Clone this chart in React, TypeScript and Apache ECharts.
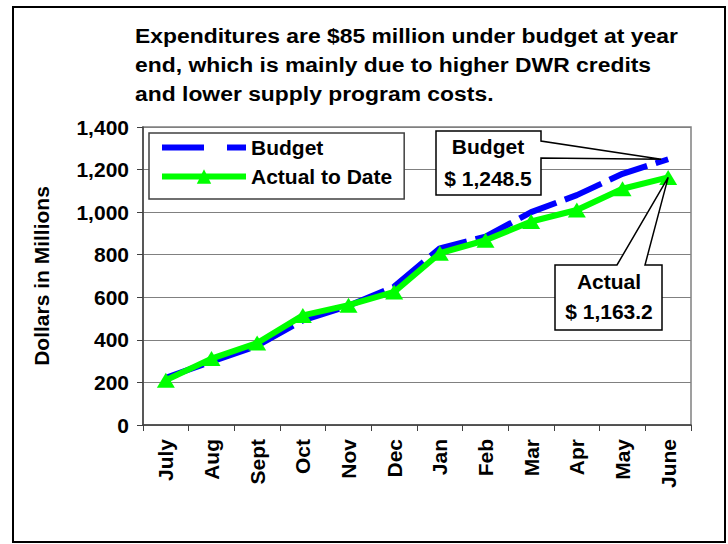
import React, { useEffect, useRef } from "react";
import * as echarts from "echarts";

const months = ["July", "Aug", "Sept", "Oct", "Nov", "Dec", "Jan", "Feb", "Mar", "Apr", "May", "June"];
const budget = [222, 298, 372, 492, 560, 650, 830, 885, 1000, 1080, 1180, 1248.5];
const actual = [210, 312, 385, 515, 563, 625, 807, 868, 956, 1010, 1110, 1163.2];
const titleLines = [
  "Expenditures are $85 million under budget at year",
  "end, which is mainly due to higher DWR credits",
  "and lower supply program costs.",
];
const budgetCallout = ["Budget", "$ 1,248.5"];
const actualCallout = ["Actual", "$ 1,163.2"];
const yAxisName = "Dollars in Millions";

const FONT = "'Liberation Sans', Arial, sans-serif";

export default function App() {
  const ref = useRef<HTMLDivElement>(null);
  useEffect(() => {
    document.body.style.margin = "0";
    const chart = echarts.init(ref.current!, null, { renderer: "svg" });
    chart.setOption({
      animation: false,
      backgroundColor: "#ffffff",
      textStyle: { fontFamily: FONT },
      grid: {
        left: 143,
        right: 37,
        top: 127,
        bottom: 119,
        show: true,
        borderColor: "#808080",
        borderWidth: 1.5,
        backgroundColor: "transparent",
      },
      legend: {
        left: 149,
        top: 133,
        orient: "vertical",
        padding: [4, 12, 12, 10],
        itemGap: 8,
        itemWidth: 84,
        itemHeight: 18,
        borderColor: "#404040",
        borderWidth: 1.5,
        backgroundColor: "#ffffff",
        textStyle: { fontSize: 21, fontWeight: "bold", color: "#000", fontFamily: FONT },
        data: [
          { name: "Budget", itemStyle: { opacity: 0 }, lineStyle: { width: 6, type: [42, 23], opacity: 1 } },
          { name: "Actual to Date", lineStyle: { width: 6 } },
        ],
      },
      xAxis: {
        type: "category",
        data: months,
        boundaryGap: true,
        axisLine: { lineStyle: { color: "#404040", width: 1.5 } },
        axisTick: { show: true, length: 6, lineStyle: { color: "#404040" } },
        axisLabel: {
          rotate: 90,
          margin: 14,
          fontSize: 21,
          fontWeight: "bold",
          color: "#000",
          fontFamily: FONT,
          interval: 0,
        },
        splitLine: { show: false },
      },
      yAxis: {
        type: "value",
        min: 0,
        max: 1400,
        interval: 200,
        name: yAxisName,
        nameLocation: "middle",
        nameGap: 91,
        nameTextStyle: { fontSize: 21, fontWeight: "bold", color: "#000", fontFamily: FONT },
        axisLine: { show: true, lineStyle: { color: "#404040", width: 1.5 } },
        axisTick: { show: true, length: 6, lineStyle: { color: "#404040" } },
        axisLabel: {
          margin: 14,
          fontSize: 21,
          fontWeight: "bold",
          color: "#000",
          fontFamily: FONT,
          formatter: (v: number) => v.toLocaleString("en-US"),
        },
        splitLine: { show: true, lineStyle: { color: "#808080", width: 1 } },
      },
      series: [
        {
          name: "Budget",
          type: "line",
          data: budget,
          symbol: "none",
          itemStyle: { color: "#0000ff" },
          lineStyle: { color: "#0000ff", width: 6, type: [40, 9] },
          z: 2,
        },
        {
          name: "Actual to Date",
          type: "line",
          data: actual,
          symbol: "triangle",
          symbolSize: [18, 15],
          itemStyle: { color: "#00ff00" },
          lineStyle: { color: "#00ff00", width: 6 },
          z: 3,
        },
      ],
    });

    const bp = chart.convertToPixel({ seriesIndex: 0 }, [11, budget[11]]) as number[];
    const ap = chart.convertToPixel({ seriesIndex: 1 }, [11, actual[11]]) as number[];
    const bTip = [bp[0] - 7, bp[1]];
    const aTip = [ap[0], ap[1]];

    const calloutText = (x: number, y: number, text: string) => ({
      type: "text",
      x,
      y,
      style: {
        text,
        font: `bold 21px ${FONT}`,
        fill: "#000",
        align: "center",
        verticalAlign: "middle",
      },
      z: 21,
    });

    chart.setOption({
      graphic: [
        {
          type: "rect",
          shape: { x: 13, y: 7, width: 712, height: 535 },
          style: { fill: "none", stroke: "#000", lineWidth: 2 },
          silent: true,
          z: 0,
        },
        {
          type: "text",
          x: 135,
          y: 21,
          scaleX: 1.09,
          style: {
            text: titleLines.join("\n"),
            font: `bold 21px ${FONT}`,
            fill: "#000",
            lineHeight: 29,
          },
          z: 10,
        },
        {
          type: "polygon",
          shape: {
            points: [
              [436, 131],
              [541, 131],
              [541, 141],
              bTip,
              [541, 158],
              [541, 195],
              [436, 195],
            ],
          },
          style: { fill: "#fff", stroke: "#000", lineWidth: 1.5 },
          z: 20,
        },
        calloutText(488, 146, budgetCallout[0]),
        calloutText(488, 178, budgetCallout[1]),
        {
          type: "polygon",
          shape: {
            points: [
              [555, 265],
              [617, 265],
              aTip,
              [645, 265],
              [662, 265],
              [662, 330],
              [555, 330],
            ],
          },
          style: { fill: "#fff", stroke: "#000", lineWidth: 1.5 },
          z: 20,
        },
        calloutText(609, 281, actualCallout[0]),
        calloutText(609, 311, actualCallout[1]),
      ],
    });
    return () => chart.dispose();
  }, []);
  return <div ref={ref} style={{ width: 728, height: 544 }} />;
}
